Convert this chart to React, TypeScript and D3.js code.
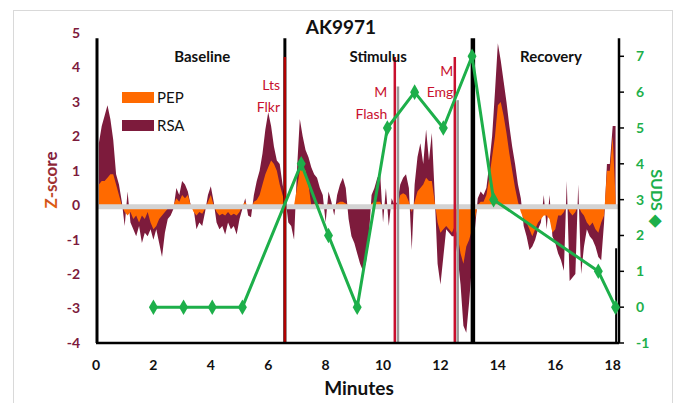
import React from 'react';
import * as d3 from 'd3';

// sampling grid of the physiological traces (minutes)
const minutes = d3.range(1, 182).map(i => i / 10);

const rsa = [
  1.8, 2.3, 2.6, 2.9, 2.5, 1.9, 0.9, 0.6, 0.1, -0.6,
  0.4, -0.5, -0.7, -0.9, -0.6, -1.1, -0.8, -0.9, -0.7, -1.0,
  -0.7, -1.1, -1.5, -0.8, -0.4, -0.3, -0.1, 0.5, 0.3, 0.7,
  0.6, 0.4, 0.0, -0.1, -0.7, -0.5, -0.6, -0.2, 0.3, 0.55,
  0.1, -0.5, -0.7, -0.6, -0.85, -0.5, -0.7, -0.6, -0.85, -0.4,
  -0.1, 0.2, -0.3, -0.35, 0.3, 0.7, 1.0, 1.5, 2.2, 2.7,
  2.3, 1.7, 1.3, 1.2, 0.6, 0.2, -0.5, -0.6, -1.0, 1.0,
  2.5, 2.0, 1.6, 1.4, 1.1, 0.9, 0.8, 0.5, 0.3, -0.5,
  0.4, 0.1, -0.3, 0.3, 0.6, 0.8, 0.5, -0.4, -0.9, -1.1,
  -1.4, -1.7, -1.9, -1.7, -1.0, 0.3, 0.5, 0.8, 0.9, -0.5,
  0.5, -0.6, 0.2, 0.0, 0.1, 0.6, 0.8, 0.9, 0.5, -1.3,
  0.6, 1.4, 1.8, 1.2, 2.2, 1.3, 2.1, 0.3, -1.7, -2.3,
  -1.5, -0.7, -0.8, -0.9, -0.9, -1.5, -2.3, -3.5, -3.7, -2.8,
  -1.7, -0.7, 0.2, 0.4, 0.3, 0.5, 1.2, 2.0, 3.3, 4.7,
  4.2, 3.6, 3.0, 2.3, 1.7, 1.2, 0.6, 0.2, -0.6, -0.9,
  -1.3, -1.2, -1.0, -0.7, -0.5, 0.3, -0.7, 0.3, -0.9, -1.1,
  -1.4, -1.6, -1.9, 0.7, -2.2, -2.1, -2.0, 0.6, -2.0, -1.2,
  -0.7, -0.9, -1.0, -1.2, -1.5, -1.6, -0.5, 1.2, 1.2, 2.3,
  2.3,
];

const pep = [
  0.6, 0.7, 0.7, 0.8, 0.9, 0.9, 0.6, 0.3, 0.0, -0.2,
  -0.3, -0.2, -0.4, -0.3, -0.5, -0.3, -0.4, -0.2, -0.5, -0.7,
  -0.6, -0.4, -0.3, -0.2, -0.1, 0.0, 0.0, 0.2, 0.1, 0.3,
  0.2, 0.3, 0.0, -0.2, -0.3, -0.2, -0.25, -0.1, 0.1, 0.3,
  0.0, -0.2, -0.3, -0.25, -0.3, -0.2, -0.3, -0.25, -0.3, -0.2,
  0.0, 0.1, -0.1, -0.1, 0.1, 0.15, 0.3, 0.6, 0.9, 1.1,
  1.3, 1.2, 1.0, 0.6, 0.3, 0.0, -0.1, -0.1, 0.0, 0.5,
  1.0, 1.1, 1.0, 0.6, 0.0, 0.05, 0.0, 0.05, 0.0, -0.05,
  0.05, 0.0, -0.05, 0.05, 0.1, 0.1, 0.05, 0.0, -0.05, -0.1,
  -0.1, -0.1, -0.1, -0.1, -0.05, 0.05, 0.1, 0.1, 0.1, -0.1,
  0.05, -0.1, 0.0, 0.0, 0.0, 0.3, 0.35, 0.3, 0.1, -0.2,
  0.1, 0.4, 0.5, 0.6, 0.8, 0.7, 0.7, 0.1, -0.5, -0.8,
  -0.7, -0.6, -0.7, -0.8, -0.6, -0.9, -1.4, -1.7, -1.2, -1.0,
  -0.7, -0.4, 0.0, 0.1, 0.1, 0.3, 0.8, 1.4, 2.0, 2.9,
  3.0, 2.6, 2.1, 1.5, 1.0, 0.5, 0.1, -0.2, -0.4, -0.5,
  -0.7, -0.9, -0.7, -0.5, -0.4, -0.3, -0.3, -0.4, -0.8, -0.7,
  -0.3, -0.3, -0.2, 0.0, -0.2, -0.3, -0.2, 0.0, -0.2, -0.3,
  -0.5, -0.6, -0.5, -0.7, -0.8, -0.5, -0.3, 1.0, 1.0, 2.0,
  0.2,
];

const sudsMinutes = [2, 3.05, 4.05, 5.1, 7.15, 8.1, 9.1, 10.15, 11.1, 12.1, 13.1, 13.85, 17.5, 18.1];
const suds = [0, 0, 0, 0, 4, 2, 0, 5, 6, 5, 7, 3, 1, 0];

const zTicks = [-4, -3, -2, -1, 0, 1, 2, 3, 4, 5];
const sudsTicks = [-1, 0, 1, 2, 3, 4, 5, 6, 7];
const minuteTicks = [0, 2, 4, 6, 8, 10, 12, 14, 16, 18];

const phaseLines = [0, 6.58, 13.13];
const phaseLabels = ['Baseline', 'Stimulus', 'Recovery'];
const phaseLabelAt = [3.7, 9.83, 15.85];
const eventLines = [6.58, 10.41, 12.5];
const eventLabels = [['Lts', 'Flkr'], ['M', 'Flash'], ['M', 'Emg']];
const eventLabelAt = [6.41, 10.15, 12.45];
const eventLabelZ = [[3.5, 2.85], [3.28, 2.65], [3.9, 3.28]];
const markLines = [10.52, 12.6];
const markTops = [3.45, 3.05];

const W = 678;
const H = 403;
const FONT = 'Lato, "Open Sans", sans-serif';
const ORANGE = '#FF6A00';
const MAROON = '#7D1B3C';
const GREEN = '#1DAF4A';
const RED = '#C8102E';

export default function App() {
  const x = d3.scaleLinear().domain([0, 18.22]).range([96, 619]);
  const y = d3.scaleLinear().domain([-4, 5]).range([343, 33]);
  const y2 = d3.scaleLinear().domain([-1, 7.65]).range([343, 33]);

  const rows = minutes.map((m, i) => ({ m, rsa: rsa[i], pep: pep[i] }));
  const area = (key: 'rsa' | 'pep') =>
    d3.area<any>().x(d => x(d.m)).y0(y(0)).y1(d => y(d[key]))(rows) || '';
  const sudsRows = sudsMinutes.map((m, i) => ({ m, v: suds[i] }));
  const sudsLine = d3.line<any>().x(d => x(d.m)).y(d => y2(d.v))(sudsRows) || '';
  const diamond = d3.symbol().type(d3.symbolDiamond).size(70)() || '';

  const top = y(4.85);

  return (
    <svg width={W} height={H} style={{ position: 'absolute', left: 0, top: 0, background: '#fff' }}>
      <defs>
        <linearGradient id="zgrad" x1="0" x2="1" y1="0" y2="0">
          <stop offset="0" stopColor="#E8620F" />
          <stop offset="0.35" stopColor="#A8362E" />
          <stop offset="1" stopColor={MAROON} />
        </linearGradient>
      </defs>
      <rect x={13.5} y={10.5} width={659} height={400} fill="#fff" stroke="#d9d9d9" />

      {/* areas */}
      <path d={area('rsa')} fill={MAROON} />
      <path d={area('pep')} fill={ORANGE} />

      {/* zero band */}
      <line x1={x(0)} x2={x(18.22)} y1={y(0) + 1.5} y2={y(0) + 1.5} stroke="#d3d3d3" strokeWidth={5} />

      {/* marker lines */}
      {markLines.map((m, i) => (
        <line key={'g' + i} x1={x(m)} x2={x(m)} y1={y(markTops[i])} y2={y(-4)} stroke="#9a9a9a" strokeWidth={2.5} />
      ))}
      {phaseLines.map((m, i) => (
        <line key={'p' + i} x1={x(m) + (i === 0 ? 1 : 0)} x2={x(m) + (i === 0 ? 1 : 0)} y1={top} y2={y(-4)}
          stroke="#000" strokeWidth={i === 2 ? 4.5 : 3} />
      ))}
      {eventLines.map((m, i) => (
        <line key={'e' + i} x1={x(m)} x2={x(m)} y1={y(4.3)} y2={y(-4)} stroke={i === 0 ? '#B00000' : RED} strokeWidth={i === 0 ? 2.5 : 2.5} />
      ))}
      <line x1={x(18.12)} x2={x(18.12)} y1={y(-1.25)} y2={y(-4)} stroke="#000" strokeWidth={2} />

      {/* axes */}
      <line x1={x(0)} x2={x(18.22)} y1={y(-4)} y2={y(-4)} stroke="#000" strokeWidth={2.5} />
      <line x1={x(18.22)} x2={x(18.22)} y1={top} y2={y(-4)} stroke="#000" strokeWidth={2.5} />
      {sudsTicks.map(t => (
        <line key={'rt' + t} x1={x(18.22)} x2={x(18.22) + 5} y1={y2(t)} y2={y2(t)} stroke="#000" strokeWidth={1.5} />
      ))}

      <g fontFamily={FONT} fontWeight="bold" fontSize={14}>
        {zTicks.map(t => (
          <text key={'z' + t} x={80} y={y(t)} dy="0.35em" textAnchor="end" fill={MAROON}>{t}</text>
        ))}
        {sudsTicks.map(t => (
          <text key={'s' + t} x={636} y={y2(t)} dy="0.35em" fill={GREEN}>{t}</text>
        ))}
        {minuteTicks.map(t => (
          <text key={'m' + t} x={x(t)} y={365} dy="0.35em" textAnchor="middle" fill="#111">{t}</text>
        ))}
      </g>

      {/* phase labels */}
      <g fontFamily={FONT} fontWeight="bold" fontSize={15} fill="#111" textAnchor="middle">
        {phaseLabels.map((l, i) => (
          <text key={l} x={x(phaseLabelAt[i])} y={57} dy="0.35em">{l}</text>
        ))}
      </g>

      {/* event labels */}
      <g fontFamily={FONT} fontSize={14} fill={RED} textAnchor="end">
        {eventLabels.map((ls, i) => ls.map((l, j) => (
          <text key={i + l} x={x(eventLabelAt[i])} y={y(eventLabelZ[i][j])} dy="0.35em">{l}</text>
        )))}
      </g>

      {/* legend */}
      <rect x={122} y={92} width={32} height={11} fill={ORANGE} />
      <text x={157} y={98} dy="0.35em" fontFamily={FONT} fontSize={15} fill="#111">PEP</text>
      <rect x={122} y={120} width={32} height={11} fill={MAROON} />
      <text x={157} y={126} dy="0.35em" fontFamily={FONT} fontSize={15} fill="#111">RSA</text>

      {/* SUDS */}
      <path d={sudsLine} fill="none" stroke={GREEN} strokeWidth={3} strokeLinejoin="round" />
      {sudsRows.map((d, i) => (
        <path key={'d' + i} d={diamond} transform={`translate(${x(d.m)},${y2(d.v)})`} fill={GREEN} />
      ))}

      {/* titles */}
      <text x={341} y={27} dy="0.35em" textAnchor="middle" fontFamily={FONT} fontWeight="bold" fontSize={19} fill="#111">AK9971</text>
      <text x={359} y={388} dy="0.35em" textAnchor="middle" fontFamily={FONT} fontWeight="bold" fontSize={19} fill="#111">Minutes</text>
      <text transform="translate(51,180) rotate(-90)" dy="0.35em" textAnchor="middle" fontFamily={FONT} fontWeight="bold" fontSize={17} fill="url(#zgrad)">Z-score</text>
      <text transform="translate(657,198) rotate(90)" dy="0.35em" textAnchor="middle" fontFamily={FONT} fontWeight="bold" fontSize={16} fill={GREEN}>SUDS ◆</text>
    </svg>
  );
}
